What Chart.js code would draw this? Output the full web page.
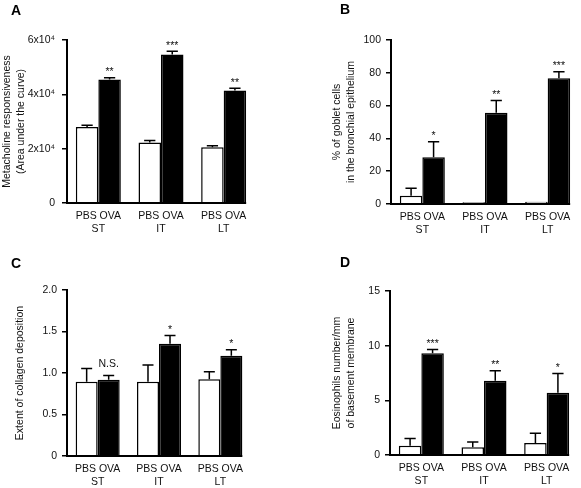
<!DOCTYPE html>
<html>
<head>
<meta charset="utf-8">
<script src="https://cdn.jsdelivr.net/npm/chart.js@4.4.1/dist/chart.umd.min.js"></script>
<style>
  html, body { margin: 0; padding: 0; background: #fff; }
  #wrap { position: relative; width: 581px; height: 488px; }
  .panel { position: absolute; }
</style>
</head>
<body>
<div id="wrap">
  <div class="panel" style="left:0;top:0;width:290px;height:244px"><canvas id="chartA"></canvas></div>
  <div class="panel" style="left:290px;top:0;width:291px;height:244px"><canvas id="chartB"></canvas></div>
  <div class="panel" style="left:0;top:244px;width:290px;height:244px"><canvas id="chartC"></canvas></div>
  <div class="panel" style="left:290px;top:244px;width:291px;height:244px"><canvas id="chartD"></canvas></div>
</div>
<script>
const FONT = '"Liberation Sans", Arial, sans-serif';
const GROUPS = [['PBS OVA', 'ST'], ['PBS OVA', 'IT'], ['PBS OVA', 'LT']];

// A - metacholine responsiveness
const A_PBS = [28000, 22300, 20500];
const A_PBS_ERR = [650, 700, 600];
const A_OVA = [45500, 54700, 41400];
const A_OVA_ERR = [600, 1200, 800];
const A_SIG = ['**', '***', '**'];
const A_TICKS = ['0', '2x10⁴', '4x10⁴', '6x10⁴'];

// B - goblet cells
const B_PBS = [5.1, 1.0, 1.4];
const B_PBS_ERR = [4.5, 0, 0];
const B_OVA = [28.5, 55.6, 76.7];
const B_OVA_ERR = [9.5, 7.5, 4.0];
const B_SIG = ['*', '**', '***'];
const B_TICKS = ['0', '20', '40', '60', '80', '100'];

// C - collagen deposition
const C_PBS = [0.895, 0.895, 0.924];
const C_PBS_ERR = [0.16, 0.2, 0.09];
const C_OVA = [0.92, 1.353, 1.208];
const C_OVA_ERR = [0.05, 0.1, 0.072];
const C_SIG = ['N.S.', '*', '*'];
const C_TICKS = ['0', '0.5', '1.0', '1.5', '2.0'];

// D - eosinophils
const D_PBS = [0.85, 0.7, 1.1];
const D_PBS_ERR = [0.65, 0.5, 0.9];
const D_OVA = [9.3, 6.8, 5.7];
const D_OVA_ERR = [0.35, 0.9, 1.75];
const D_SIG = ['***', '**', '*'];
const D_TICKS = ['0', '5', '10', '15'];

// one-sided error bars, significance marks, short x axis line, panel letter
const errorBarsPlugin = {
  id: 'errorBars',
  afterDatasetsDraw(chart, args, opts) {
    const ctx = chart.ctx;
    const y = chart.scales.y;
    const area = chart.chartArea;
    ctx.save();
    ctx.strokeStyle = '#000';
    ctx.lineWidth = 1.5;
    chart.data.datasets.forEach((ds, di) => {
      chart.getDatasetMeta(di).data.forEach((bar, i) => {
        const e = opts.errors[di][i];
        if (!e) return;
        const top = y.getPixelForValue(ds.data[i] + e);
        const half = bar.width / 4;
        ctx.beginPath();
        ctx.moveTo(bar.x, bar.y);
        ctx.lineTo(bar.x, top);
        ctx.moveTo(bar.x - half, top);
        ctx.lineTo(bar.x + half, top);
        ctx.stroke();
      });
    });

    const ova = chart.getDatasetMeta(1);
    ctx.fillStyle = '#111';
    ctx.font = `10.5px ${FONT}`;
    ctx.textAlign = 'center';
    ctx.textBaseline = 'alphabetic';
    opts.sig.forEach((s, i) => {
      const bar = ova.data[i];
      const top = y.getPixelForValue(chart.data.datasets[1].data[i] + opts.errors[1][i]);
      const gap = s.startsWith('*') ? 2.5 : 8.5;
      ctx.fillText(s, bar.x, top - gap);
    });

    const last = ova.data[ova.data.length - 1];
    ctx.lineWidth = 2;
    ctx.beginPath();
    ctx.moveTo(area.left - 1, area.bottom);
    ctx.lineTo(last.x + last.width / 2, area.bottom);
    ctx.stroke();

    ctx.font = `bold 14px ${FONT}`;
    ctx.textAlign = 'left';
    ctx.fillStyle = '#000';
    ctx.fillText(opts.letter, opts.letterX, opts.letterY);
    ctx.restore();
  },
};

function makePanel(id, p) {
  return new Chart(document.getElementById(id), {
    type: 'bar',
    data: {
      labels: GROUPS,
      datasets: [
        { label: 'PBS', data: p.pbs, backgroundColor: '#fff', borderColor: '#000', borderWidth: 1.5 },
        { label: 'OVA', data: p.ova, backgroundColor: '#000', borderColor: '#000', borderWidth: 1.5 },
      ],
    },
    options: {
      responsive: true,
      maintainAspectRatio: false,
      animation: false,
      layout: { padding: { left: p.padLeft, top: p.top, right: p.padRight, bottom: 0 } },
      datasets: { bar: { categoryPercentage: 0.718, barPercentage: 1 } },
      plugins: {
        legend: { display: false },
        tooltip: { enabled: false },
        errorBars: {
          errors: [p.pbsErr, p.ovaErr], sig: p.sig,
          letter: p.letter, letterX: p.letterX, letterY: p.letterY,
        },
      },
      scales: {
        x: {
          grid: { display: false, drawTicks: false },
          border: { display: false },
          ticks: {
            color: '#111', padding: 6, maxRotation: 0, autoSkip: false,
            font: { family: FONT, size: 10.5, lineHeight: 1.3 },
          },
          afterFit: (s) => { s.height = p.xHeight; },
        },
        y: {
          min: 0,
          max: p.max,
          ticks: {
            stepSize: p.step, color: '#111', padding: p.tickPad,
            font: { family: FONT, size: 10.5 },
            callback: (v, i) => p.ticks[i],
          },
          grid: { drawOnChartArea: false, drawTicks: true, tickLength: 5, color: '#000', lineWidth: 1.5 },
          border: { display: true, color: '#000', width: 2 },
          title: {
            display: true, text: p.title, color: '#111',
            font: { family: FONT, size: 10.5, lineHeight: 1.33 },
            padding: { top: p.titlePad, bottom: 0 },
          },
          afterFit: (s) => { s.width = p.yWidth; },
        },
      },
    },
    plugins: [errorBarsPlugin],
  });
}

makePanel('chartA', {
  pbs: A_PBS, ova: A_OVA, pbsErr: A_PBS_ERR, ovaErr: A_OVA_ERR, sig: A_SIG,
  max: 60000, step: 20000, ticks: A_TICKS, tickPad: 7,
  title: ['Metacholine responsiveness', '(Area under the curve)'], titlePad: 0,
  padLeft: 0, yWidth: 67, top: 40, padRight: 35, xHeight: 41,
  letter: 'A', letterX: 11, letterY: 15,
});

makePanel('chartB', {
  pbs: B_PBS, ova: B_OVA, pbsErr: B_PBS_ERR, ovaErr: B_OVA_ERR, sig: B_SIG,
  max: 100, step: 20, ticks: B_TICKS, tickPad: 5,
  title: ['% of goblet cells', 'in the bronchial epithelium'], titlePad: 0,
  padLeft: 40, yWidth: 61, top: 40, padRight: 2, xHeight: 40,
  letter: 'B', letterX: 50, letterY: 14,
});

makePanel('chartC', {
  pbs: C_PBS, ova: C_OVA, pbsErr: C_PBS_ERR, ovaErr: C_OVA_ERR, sig: C_SIG,
  max: 2, step: 0.5, ticks: C_TICKS, tickPad: 5,
  title: 'Extent of collagen deposition', titlePad: 13.5,
  padLeft: 0, yWidth: 67, top: 46, padRight: 39, xHeight: 32,
  letter: 'C', letterX: 11, letterY: 24,
});

makePanel('chartD', {
  pbs: D_PBS, ova: D_OVA, pbsErr: D_PBS_ERR, ovaErr: D_OVA_ERR, sig: D_SIG,
  max: 15, step: 5, ticks: D_TICKS, tickPad: 5,
  title: ['Eosinophils number/mm', 'of basement membrane'], titlePad: 0,
  padLeft: 40, yWidth: 60, top: 47, padRight: 3, xHeight: 33,
  letter: 'D', letterX: 50, letterY: 23,
});
</script>
</body>
</html>
